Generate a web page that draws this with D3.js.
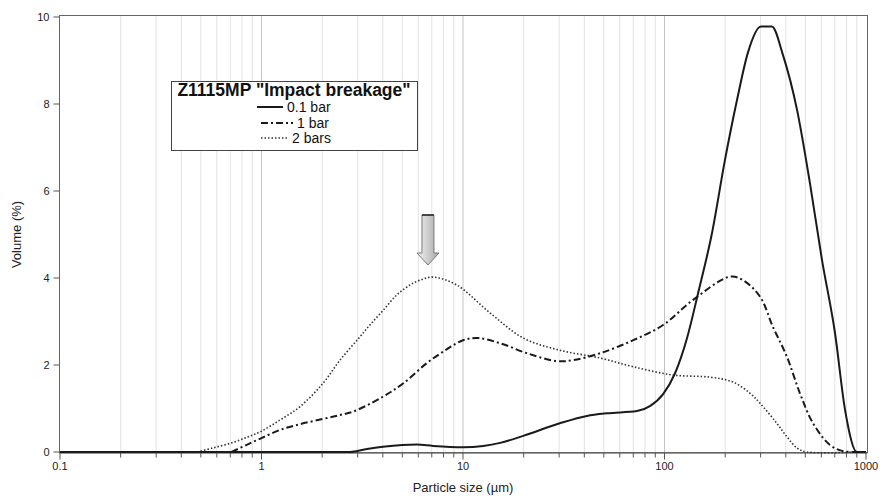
<!DOCTYPE html>
<html><head><meta charset="utf-8">
<script src="https://cdn.jsdelivr.net/npm/d3@7"></script>
<style>
html,body{margin:0;padding:0;background:#fff;}
svg{display:block;font-family:"Liberation Sans",Arial,sans-serif;}
</style></head>
<body><svg id="chart" width="880" height="498"></svg>
<script>
// ---- data ----
const sizes01 = [0.1, 2.75, 3.34, 4.0, 5.0, 5.9, 7.1, 10, 12.6, 15.3, 19.9, 30.2, 41.2, 51.8, 73, 85, 98.4, 112.8, 129.4, 146.6, 172, 199.5, 229, 259, 301, 341, 387, 455, 527, 605, 702, 787, 903, 1000];
const vol01   = [0,   0,    0.07, 0.12, 0.16, 0.17, 0.14, 0.11, 0.14, 0.21, 0.37, 0.66, 0.83, 0.89, 0.94, 1.06, 1.33, 1.81, 2.62, 3.64, 5.03, 6.71, 8.09, 9.17, 9.78, 9.78, 9.13, 7.86, 6.18, 4.41, 2.73, 0.97, 0,   0];

const sizes1 = [0.71, 0.84, 1.0, 1.24, 1.55, 2.02, 2.45, 2.86, 4.0, 5.06, 6.6, 8.3, 10, 11.9, 15.3, 20.8, 29.2, 35.2, 47.9, 70, 98.4, 138, 211, 245, 298, 345, 405, 470, 546, 663, 769, 903];
const vol1   = [0,    0.16, 0.32, 0.51, 0.64, 0.76, 0.85, 0.93, 1.27, 1.58, 2.04, 2.36, 2.57, 2.62, 2.5, 2.27, 2.09, 2.11, 2.27, 2.57, 2.92, 3.49, 4.03, 3.95, 3.57, 2.88, 2.19, 1.35, 0.66, 0.16, 0.02, 0];

const sizes2 = [0.48, 0.57, 0.70, 0.85, 1.0, 1.24, 1.55, 2.02, 2.45, 3.03, 3.45, 4.02, 4.69, 5.46, 6.12, 7.12, 9.3, 13.6, 19.9, 30.2, 47.9, 70, 110, 168, 218, 266, 298, 361, 405, 455, 509, 870];
const vol2   = [0,    0.09, 0.2,  0.34, 0.48, 0.74, 1.04, 1.58, 2.11, 2.61, 2.92, 3.26, 3.61, 3.84, 3.95, 4.02, 3.84, 3.2,  2.62, 2.34, 2.16, 1.96, 1.77, 1.72, 1.61, 1.35, 1.12, 0.66, 0.35, 0.09, 0,   0];

const seriesNames = ["0.1 bar", "1 bar", "2 bars"];
const xTickLabels = ["0.1", "1", "10", "100", "1000"];
const yTickValues = [0, 2, 4, 6, 8, 10];
const legendTitle = 'Z1115MP "Impact breakage"';
const xTitle = "Particle size (µm)";
const yTitle = "Volume (%)";

// ---- chart ----
const svg = d3.select("#chart");
const x = d3.scaleLog().domain([0.1, 1000]).range([60, 866]);
const y = d3.scaleLinear().domain([0, 10]).range([452, 17]);

// minor gridlines
const minors = [];
for (let e = -1; e < 3; e++) for (let m = 2; m <= 9; m++) minors.push(m * Math.pow(10, e));
const majors = xTickLabels.map(Number);

svg.append("g").selectAll("line").data(minors).join("line")
  .attr("x1", d => x(d)).attr("x2", d => x(d))
  .attr("y1", 15).attr("y2", 452)
  .attr("stroke", "#e2e2e2").attr("stroke-width", 1);
svg.append("g").selectAll("line").data(majors.slice(1, 4)).join("line")
  .attr("x1", d => x(d)).attr("x2", d => x(d))
  .attr("y1", 15).attr("y2", 452)
  .attr("stroke", "#c4c4c4").attr("stroke-width", 1);

// frame
svg.append("rect").attr("x", 59.5).attr("y", 15.5).attr("width", 808).attr("height", 437)
  .attr("fill", "none").attr("stroke", "#666").attr("stroke-width", 1);
svg.append("line").attr("x1", 59.5).attr("x2", 867.5).attr("y1", 453.5).attr("y2", 453.5)
  .attr("stroke", "#999").attr("stroke-width", 1);

// x axis
const xAxis = svg.append("g").attr("transform", "translate(0,452.5)");
xAxis.selectAll("line.minor").data(minors).join("line").attr("class", "minor")
  .attr("x1", d => x(d)).attr("x2", d => x(d)).attr("y1", 0).attr("y2", 5)
  .attr("stroke", "#555");
xAxis.selectAll("line.major").data(majors).join("line").attr("class", "major")
  .attr("x1", d => x(d)).attr("x2", d => x(d)).attr("y1", 0).attr("y2", 7)
  .attr("stroke", "#555");
xAxis.selectAll("text").data(xTickLabels).join("text")
  .attr("x", d => x(+d)).attr("y", 17).attr("text-anchor", "middle")
  .attr("font-size", 11).attr("fill", "#222").text(d => d);
svg.append("text").attr("x", x(10)).attr("y", 492).attr("text-anchor", "middle")
  .attr("font-size", 13).attr("fill", "#222").text(xTitle);

// y axis
const yAxis = svg.append("g").attr("transform", "translate(59.5,0)");
yAxis.selectAll("line").data(yTickValues).join("line")
  .attr("x1", -6).attr("x2", 0).attr("y1", d => y(d)).attr("y2", d => y(d))
  .attr("stroke", "#555");
yAxis.selectAll("text").data(yTickValues).join("text")
  .attr("x", -10).attr("y", d => y(d) + 4).attr("text-anchor", "end")
  .attr("font-size", 11).attr("fill", "#222").text(d => d);
svg.append("text").attr("transform", `translate(21,${y(5)}) rotate(-90)`)
  .attr("text-anchor", "middle").attr("font-size", 13).attr("fill", "#222").text(yTitle);

// curves
const lineSolid = d3.line().x(d => x(d[0])).y(d => y(d[1])).curve(d3.curveMonotoneX);
const lineSmooth = d3.line().x(d => x(d[0])).y(d => y(d[1])).curve(d3.curveCatmullRom.alpha(0.5));
const styles = [
  {dash: null, w: 2, c: "#1a1a1a"},
  {dash: "7,3,2,3", w: 2, c: "#1a1a1a"},
  {dash: "1.5,2", w: 1.6, c: "#333"}
];
const series = [
  {data: d3.zip(sizes2, vol2), st: styles[2], gen: lineSmooth},
  {data: d3.zip(sizes1, vol1), st: styles[1], gen: lineSmooth},
  {data: d3.zip(sizes01, vol01), st: styles[0], gen: lineSolid}
];
series.forEach(s => {
  svg.append("path").datum(s.data).attr("d", s.gen).attr("fill", "none")
    .attr("stroke", s.st.c).attr("stroke-width", s.st.w)
    .attr("stroke-dasharray", s.st.dash).attr("stroke-linejoin", "round");
});

// arrow
const defs = svg.append("defs");
const grad = defs.append("linearGradient").attr("id", "ag").attr("x1", "0").attr("x2", "1").attr("y1", "0").attr("y2", "0");
grad.append("stop").attr("offset", "0").attr("stop-color", "#f2f2f2");
grad.append("stop").attr("offset", "1").attr("stop-color", "#a8a8a8");
const ax = x(6.7);
svg.append("path")
  .attr("d", `M${ax-6},215 L${ax+6},215 L${ax+6},253 L${ax+11},253 L${ax},265 L${ax-11},253 L${ax-6},253 Z`)
  .attr("fill", "url(#ag)").attr("stroke", "#777").attr("stroke-width", 1);
svg.append("line").attr("x1", ax-6).attr("x2", ax+6).attr("y1", 215).attr("y2", 215)
  .attr("stroke", "#222").attr("stroke-width", 1.5);

// legend
const lg = svg.append("g");
lg.append("rect").attr("x", 171.5).attr("y", 81.5).attr("width", 246).attr("height", 69)
  .attr("fill", "#fff").attr("stroke", "#444").attr("stroke-width", 1);
lg.append("text").attr("x", 294).attr("y", 96).attr("text-anchor", "middle")
  .attr("font-size", 17.5).attr("font-weight", "bold").attr("fill", "#111").text(legendTitle);
const entries = [
  {y: 107, x1: 257, x2: 283},
  {y: 123, x1: 261, x2: 293},
  {y: 138, x1: 261, x2: 288}
];
entries.forEach((e, i) => {
  const st = styles[i];
  lg.append("line").attr("x1", e.x1).attr("x2", e.x2).attr("y1", e.y).attr("y2", e.y)
    .attr("stroke", st.c).attr("stroke-width", st.w).attr("stroke-dasharray", st.dash);
  lg.append("text").attr("x", e.x2 + 4).attr("y", e.y + 5).attr("font-size", 14)
    .attr("fill", "#111").text(seriesNames[i]);
});
</script></body></html>
